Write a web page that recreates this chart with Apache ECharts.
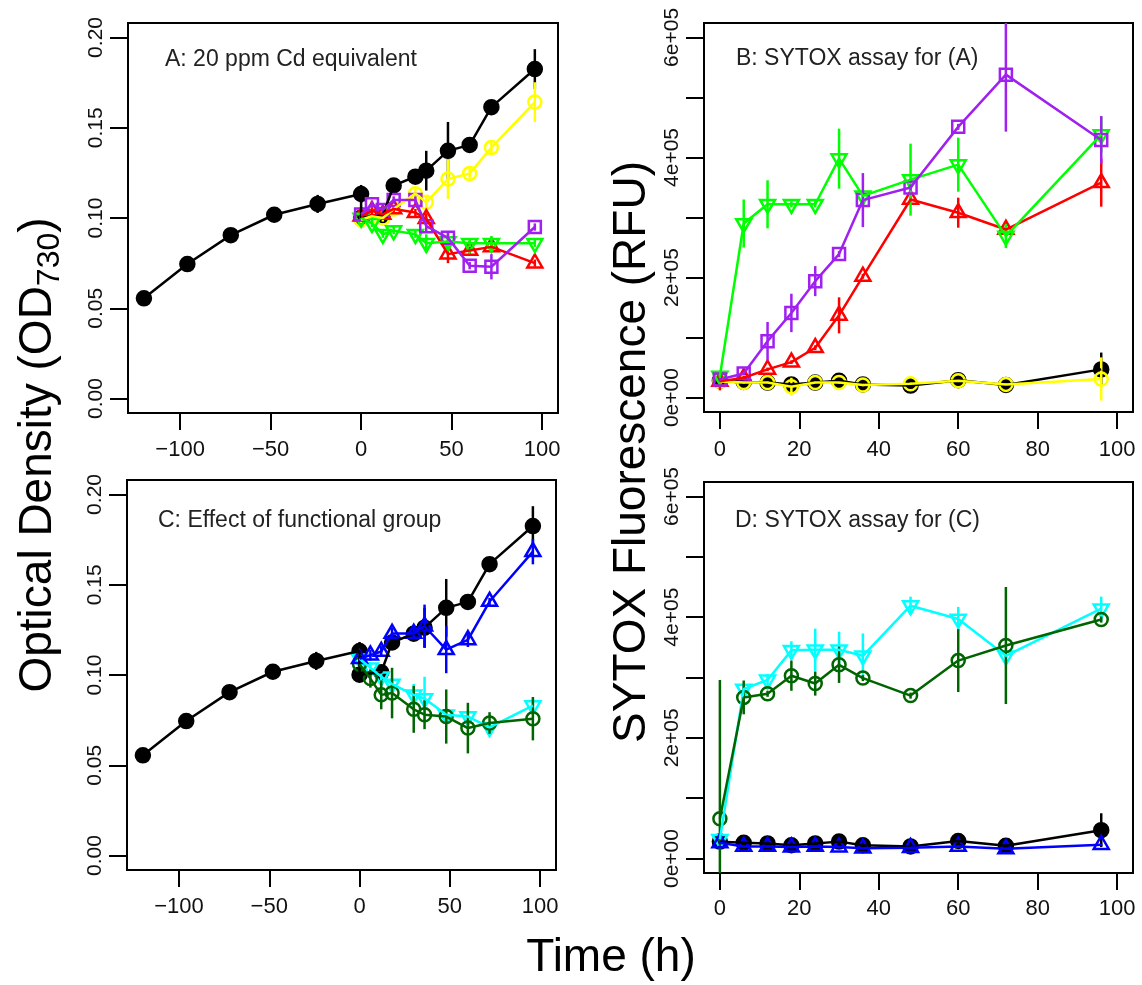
<!DOCTYPE html>
<html>
<head>
<meta charset="utf-8">
<script src="https://cdn.jsdelivr.net/npm/echarts@6/dist/echarts.min.js"></script>
<style>
html,body{margin:0;padding:0;background:#fff;}
#chart{width:1142px;height:985px;}
</style>
</head>
<body>
<div id="chart"></div>
<script>
// ---------------- DATA ----------------
// Optical density panels (A, C)
const odControlTime = [-120, -96, -72, -48, -24, 0, 0, 12, 18, 30, 36, 48, 60, 72, 96];
const odControl     = [0.0555, 0.0745, 0.0905, 0.1018, 0.1078, 0.1133, 0.1002, 0.1015, 0.1180, 0.1229, 0.1262, 0.1372, 0.1405, 0.1614, 0.1825];
const odControlErr  = [0.001, 0.002, 0.002, 0.004, 0.005, 0.005, 0.002, 0.003, 0.004, 0.002, 0.011, 0.016, 0.003, 0.003, 0.011];

const odTime = [0, 6, 12, 18, 30, 36, 48, 60, 72, 96];
// Panel A treatments
const odYellow    = [0.099, 0.101, 0.100, 0.105, 0.1135, 0.1087, 0.1216, 0.1247, 0.139, 0.1642];
const odYellowErr = [0.002, 0.002, 0.002, 0.002, 0.003, 0.004, 0.011, 0.003, 0.003, 0.011];
const odRed       = [0.101, 0.104, 0.102, 0.105, 0.103, 0.0996, 0.080, 0.082, 0.084, 0.075];
const odRedErr    = [0.002, 0.002, 0.002, 0.002, 0.002, 0.003, 0.005, 0.002, 0.002, 0.002];
const odGreen     = [0.100, 0.097, 0.091, 0.093, 0.091, 0.086, 0.087, 0.086, 0.086, 0.086];
const odGreenErr  = [0.002, 0.002, 0.002, 0.002, 0.002, 0.005, 0.005, 0.002, 0.004, 0.002];
const odPurple    = [0.102, 0.1076, 0.1045, 0.110, 0.110, 0.0955, 0.089, 0.0736, 0.073, 0.095];
const odPurpleErr = [0.002, 0.002, 0.002, 0.002, 0.002, 0.003, 0.003, 0.002, 0.007, 0.002];
// Panel C treatments
const odCyan       = [0.109, 0.104, 0.099, 0.095, 0.089, 0.087, 0.078, 0.077, 0.071, 0.083];
const odCyanErr    = [0.002, 0.003, 0.003, 0.003, 0.006, 0.012, 0.004, 0.003, 0.003, 0.004];
const odDkGreen    = [0.106, 0.098, 0.089, 0.090, 0.081, 0.078, 0.077, 0.0706, 0.0734, 0.0758];
const odDkGreenErr = [0.003, 0.005, 0.008, 0.014, 0.013, 0.008, 0.015, 0.014, 0.006, 0.012];
const odBlue       = [0.109, 0.111, 0.113, 0.123, 0.123, 0.127, 0.114, 0.1195, 0.1407, 0.1683];
const odBlueErr    = [0.002, 0.003, 0.003, 0.003, 0.003, 0.012, 0.013, 0.004, 0.002, 0.007];

// SYTOX panels (B, D)
const syTime = [0, 6, 12, 18, 24, 30, 36, 48, 60, 72, 96];
const syControl    = [28000, 26000, 25000, 22000, 25000, 28000, 22000, 20000, 29000, 21000, 47000];
const syControlErr = [3000, 3000, 3000, 3000, 3000, 3000, 3000, 3000, 3000, 3000, 28000];
// Panel B
const syYellow    = [27000, 25000, 25000, 18000, 25000, 25000, 21000, 23000, 28000, 22000, 31000];
const syYellowErr = [2000, 2000, 2000, 15000, 2000, 2000, 2000, 2000, 2000, 2000, 36000];
const syRed       = [27000, 33000, 47000, 59000, 83000, 137000, 202000, 330000, 308000, 280000, 358000];
const syRedErr    = [15000, 3000, 3000, 3000, 4000, 30000, 4000, 5000, 25000, 5000, 40000];
const syGreen     = [36000, 290000, 322000, 322000, 322000, 398000, 336000, 363000, 388000, 269000, 438000];
const syGreenErr  = [5000, 40000, 40000, 5000, 5000, 50000, 5000, 60000, 45000, 20000, 30000];
const syPurple    = [30000, 40000, 94000, 141000, 194000, 239000, 329000, 350000, 451000, 538000, 429000];
const syPurpleErr = [3000, 3000, 32000, 32000, 25000, 5000, 45000, 5000, 5000, 95000, 40000];
// Panel D
const syBlue       = [26000, 20000, 20000, 19000, 20000, 19000, 17000, 18000, 20000, 16000, 23000];
const syBlueErr    = [2000, 2000, 2000, 2000, 2000, 2000, 2000, 2000, 2000, 2000, 2000];
const syCyan       = [32000, 281000, 296000, 345000, 346000, 346000, 336000, 419000, 397000, 336000, 414000];
const syCyanErr    = [3000, 5000, 10000, 15000, 35000, 30000, 37000, 15000, 20000, 5000, 20000];
const syDkGreen    = [66000, 267000, 273000, 303000, 290000, 321000, 299000, 270000, 328000, 353000, 396000];
const syDkGreenErr = [230000, 28000, 5000, 25000, 20000, 30000, 5000, 5000, 52000, 97000, 5000];

// Tick values / labels
const odXTicks = [-100, -50, 0, 50, 100];
const odYTicks = [0, 0.05, 0.10, 0.15, 0.20];
const odYLabels = ['0.00', '0.05', '0.10', '0.15', '0.20'];
const syXTicks = [0, 20, 40, 60, 80, 100];
const syYTicks = [0, 100000, 200000, 300000, 400000, 500000, 600000];
const syYLabelValues = [0, 200000, 400000, 600000];
const syYLabels = ['0e+00', '2e+05', '4e+05', '6e+05'];

const panelTitles = ['A: 20 ppm Cd equivalent', 'B: SYTOX assay for (A)', 'C: Effect of functional group', 'D: SYTOX assay for (C)'];

// ---------------- CHART ----------------
const FONT = '"Liberation Sans", Arial, Helvetica, sans-serif';
const LW = 2.5;

const grids = [
  {left: 128, top: 23, width: 430, height: 390},
  {left: 704, top: 23, width: 429, height: 389},
  {left: 127, top: 480, width: 429, height: 390},
  {left: 704, top: 482, width: 429, height: 391}
].map(g => Object.assign(g, {show: true, borderColor: '#000', borderWidth: 2, backgroundColor: 'transparent'}));

function minusFmt(v) { return v < 0 ? '\u2212' + (-v) : String(v); }

function xAxisOf(gi, isOD, margin) {
  return {
    type: 'value', gridIndex: gi,
    min: isOD ? -128.8 : -4, max: isOD ? 108.8 : 104,
    axisLine: {show: false, onZero: false},
    splitLine: {show: false},
    axisTick: {show: true, length: 17, inside: false, lineStyle: {color: '#000', width: 2},
               customValues: isOD ? odXTicks : syXTicks},
    axisLabel: {customValues: isOD ? odXTicks : syXTicks, formatter: minusFmt,
                fontSize: 22, fontFamily: FONT, color: '#111', margin: margin}
  };
}
function yAxisOf(gi, isOD) {
  return {
    type: 'value', gridIndex: gi,
    min: isOD ? -0.008 : -24000, max: isOD ? 0.208 : 624000,
    axisLine: {show: false, onZero: false},
    splitLine: {show: false},
    axisTick: {show: true, length: 18, inside: false, lineStyle: {color: '#000', width: 2},
               customValues: isOD ? odYTicks : syYTicks},
    axisLabel: {
      customValues: isOD ? odYTicks : syYLabelValues,
      formatter: function (v) {
        if (isOD) {
          const i = odYTicks.findIndex(t => Math.abs(t - v) < 1e-9);
          return i >= 0 ? odYLabels[i] : '';
        }
        const j = syYLabelValues.indexOf(v);
        return j >= 0 ? syYLabels[j] : '';
      },
      rotate: 90, fontSize: 21, fontFamily: FONT, color: '#111', margin: 21
    }
  };
}

const series = [];
function zip(xs, ys, es) { return xs.map((x, i) => es ? [x, ys[i], es[i]] : [x, ys[i]]); }

function addGroup(gi, xs, ys, es, color, shape) {
  series.push({
    type: 'line', xAxisIndex: gi, yAxisIndex: gi, data: zip(xs, ys),
    symbol: 'none', lineStyle: {color: color, width: LW}, silent: true, animation: false
  });
  series.push({
    type: 'custom', xAxisIndex: gi, yAxisIndex: gi, data: zip(xs, ys, es), clip: true,
    encode: {x: 0, y: 1}, silent: true, animation: false,
    renderItem: function (params, api) {
      const x = api.value(0), y = api.value(1), e = api.value(2);
      const a = api.coord([x, y - e]), b = api.coord([x, y + e]);
      return {type: 'line', shape: {x1: a[0], y1: a[1], x2: b[0], y2: b[1]},
              style: {stroke: color, lineWidth: LW, fill: null}};
    }
  });
  series.push({
    type: 'custom', xAxisIndex: gi, yAxisIndex: gi, data: zip(xs, ys), clip: false,
    encode: {x: 0, y: 1}, silent: true, animation: false,
    renderItem: function (params, api) {
      const p = api.coord([api.value(0), api.value(1)]);
      const style = {fill: shape === 'dot' ? color : 'none', stroke: color, lineWidth: LW};
      if (shape === 'dot') return {type: 'circle', shape: {cx: p[0], cy: p[1], r: 7}, style: style};
      if (shape === 'circle') return {type: 'circle', shape: {cx: p[0], cy: p[1], r: 6.5}, style: style};
      if (shape === 'square') return {type: 'rect', shape: {x: p[0] - 6, y: p[1] - 6, width: 12, height: 12}, style: style};
      const s = 15, h = 13;
      if (shape === 'up') return {type: 'polygon', shape: {points: [[p[0], p[1] - 2 * h / 3], [p[0] - s / 2, p[1] + h / 3], [p[0] + s / 2, p[1] + h / 3]]}, style: style};
      return {type: 'polygon', shape: {points: [[p[0], p[1] + 2 * h / 3], [p[0] - s / 2, p[1] - h / 3], [p[0] + s / 2, p[1] - h / 3]]}, style: style};
    }
  });
}

// Panel A
addGroup(0, odControlTime, odControl, odControlErr, '#000000', 'dot');
addGroup(0, odTime, odYellow, odYellowErr, '#FFFF00', 'circle');
addGroup(0, odTime, odRed, odRedErr, '#FF0000', 'up');
addGroup(0, odTime, odGreen, odGreenErr, '#00FF00', 'down');
addGroup(0, odTime, odPurple, odPurpleErr, '#A020F0', 'square');
// Panel B
addGroup(1, syTime, syControl, syControlErr, '#000000', 'dot');
addGroup(1, syTime, syYellow, syYellowErr, '#FFFF00', 'circle');
addGroup(1, syTime, syRed, syRedErr, '#FF0000', 'up');
addGroup(1, syTime, syGreen, syGreenErr, '#00FF00', 'down');
addGroup(1, syTime, syPurple, syPurpleErr, '#A020F0', 'square');
// Panel C
addGroup(2, odControlTime, odControl, odControlErr, '#000000', 'dot');
addGroup(2, odTime, odCyan, odCyanErr, '#00FFFF', 'down');
addGroup(2, odTime, odDkGreen, odDkGreenErr, '#006400', 'circle');
addGroup(2, odTime, odBlue, odBlueErr, '#0000FF', 'up');
// Panel D
addGroup(3, syTime, syControl, syControlErr, '#000000', 'dot');
addGroup(3, syTime, syCyan, syCyanErr, '#00FFFF', 'down');
addGroup(3, syTime, syDkGreen, syDkGreenErr, '#006400', 'circle');
addGroup(3, syTime, syBlue, syBlueErr, '#0000FF', 'up');

const panelTextPos = [[165, 60], [736, 59], [158, 521], [735, 521]];
const graphics = panelTitles.map((t, i) => ({
  type: 'text', x: panelTextPos[i][0], y: panelTextPos[i][1], silent: true,
  style: {text: t, fontSize: 23, fontFamily: FONT, fill: '#222', textAlign: 'left', textVerticalAlign: 'middle'}
}));
graphics.push({
  type: 'text', x: 38, y: 455, rotation: Math.PI / 2, silent: true,
  style: {
    text: '{n|Optical Density (OD}{s|730}{n|)}',
    textAlign: 'center', textVerticalAlign: 'middle',
    rich: {
      n: {fontSize: 46, fontFamily: FONT, fill: '#000', lineHeight: 56},
      s: {fontSize: 32, fontFamily: FONT, fill: '#000', lineHeight: 36, verticalAlign: 'bottom'}
    }
  }
});
graphics.push({
  type: 'text', x: 632, y: 452, rotation: Math.PI / 2, silent: true,
  style: {text: 'SYTOX Fluorescence (RFU)', fontSize: 46, fontFamily: FONT, fill: '#000',
          textAlign: 'center', textVerticalAlign: 'middle'}
});
graphics.push({
  type: 'text', x: 611, y: 958, silent: true,
  style: {text: 'Time (h)', fontSize: 46, fontFamily: FONT, fill: '#000',
          textAlign: 'center', textVerticalAlign: 'middle'}
});

const chart = echarts.init(document.getElementById('chart'), null, {renderer: 'canvas'});
chart.setOption({
  backgroundColor: '#fff',
  animation: false,
  grid: grids,
  xAxis: [xAxisOf(0, true, 26), xAxisOf(1, false, 27), xAxisOf(2, true, 26), xAxisOf(3, false, 25)],
  yAxis: [yAxisOf(0, true), yAxisOf(1, false), yAxisOf(2, true), yAxisOf(3, false)],
  series: series,
  graphic: graphics
});
</script>
</body>
</html>
